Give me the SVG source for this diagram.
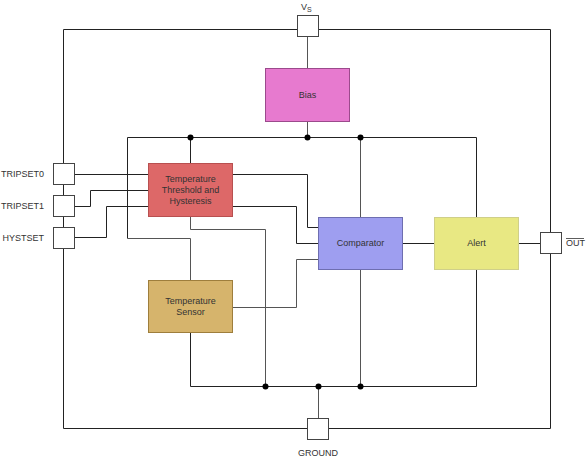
<svg xmlns="http://www.w3.org/2000/svg" width="587" height="460" viewBox="0 0 587 460">
<style>
.w{fill:none;stroke:#222;stroke-width:1}
.g{fill:none;stroke:#555;stroke-width:1}
.pin{fill:#fff;stroke:#444;stroke-width:1}
.t{font-family:"Liberation Sans",Arial,sans-serif;font-size:9px;fill:#333}
.c{text-anchor:middle}
.dot{fill:#000}
</style>
<rect width="587" height="460" fill="#fff"/>
<g id="connectors">
<polyline class="w" points="297,29.5 63.5,29.5 63.5,428.5 307,428.5"/>
<polyline class="w" points="318,29.5 550.5,29.5 550.5,233"/>
<polyline class="w" points="550.5,254 550.5,428.5 328,428.5"/>
<line class="g" x1="307.5" y1="37" x2="307.5" y2="68"/>
<line class="g" x1="307.5" y1="122" x2="307.5" y2="137.5"/>
<polyline class="w" points="127.5,238.5 127.5,137.5 476.5,137.5 476.5,217"/>
<line class="w" x1="190.5" y1="137.5" x2="190.5" y2="163"/>
<line class="g" x1="360.5" y1="137.5" x2="360.5" y2="217"/>
<polyline class="g" points="127.5,238.5 190.5,238.5 190.5,280"/>
<polyline class="g" points="190.5,217 190.5,229.5 265.5,229.5 265.5,386.5"/>
<polyline class="w" points="74,174.5 148,174.5"/>
<polyline class="w" points="74,206.5 90.5,206.5 90.5,190.5 148,190.5"/>
<polyline class="w" points="74,237.5 106.5,237.5 106.5,206.5 148,206.5"/>
<polyline class="w" points="233,174.5 307.5,174.5 307.5,227.5 318,227.5"/>
<polyline class="w" points="233,206.5 296.5,206.5 296.5,243.5 318,243.5"/>
<polyline class="g" points="233,307.5 296.5,307.5 296.5,259.5 318,259.5"/>
<line class="w" x1="403" y1="243.5" x2="434" y2="243.5"/>
<line class="w" x1="519" y1="243.5" x2="540" y2="243.5"/>
<line class="g" x1="360.5" y1="270" x2="360.5" y2="386.5"/>
<line class="w" x1="476.5" y1="270" x2="476.5" y2="386.5"/>
<polyline class="w" points="190.5,333 190.5,386.5 476.5,386.5"/>
<line class="g" x1="318.5" y1="386.5" x2="318.5" y2="418"/>
<circle class="dot" cx="190.5" cy="137.5" r="3"/>
<circle class="dot" cx="307.5" cy="137.5" r="3"/>
<circle class="dot" cx="360.5" cy="137.5" r="3"/>
<circle class="dot" cx="265.5" cy="386.5" r="3"/>
<circle class="dot" cx="318.5" cy="386.5" r="3"/>
<circle class="dot" cx="360.5" cy="386.5" r="3"/>
</g>
<g id="pin-vs">
<rect class="pin" x="297.5" y="15.5" width="21" height="21"/>
<text class="t" x="301" y="10">V<tspan font-size="7" dy="2">S</tspan></text>
</g>
<g id="pin-tripset0">
<rect class="pin" x="53.5" y="163.5" width="21" height="21"/>
<text class="t" x="44" y="177" text-anchor="end">TRIPSET0</text>
</g>
<g id="pin-tripset1">
<rect class="pin" x="53.5" y="195.5" width="21" height="21"/>
<text class="t" x="44" y="209" text-anchor="end">TRIPSET1</text>
</g>
<g id="pin-hystset">
<rect class="pin" x="53.5" y="227.5" width="21" height="21"/>
<text class="t" x="44" y="241" text-anchor="end">HYSTSET</text>
</g>
<g id="pin-out">
<rect class="pin" x="540.5" y="232.5" width="21" height="21"/>
<text class="t" x="566" y="246">OUT</text>
<line x1="566" y1="238.5" x2="584" y2="238.5" stroke="#333" stroke-width="0.8"/>
</g>
<g id="pin-ground">
<rect class="pin" x="307.5" y="418.5" width="21" height="21"/>
<text class="t c" x="318" y="456">GROUND</text>
</g>
<g id="bias">
<rect x="265.5" y="68.5" width="84" height="53" fill="#E77ACF" stroke="#9B4A8C"/>
<text class="t c" x="307.5" y="98">Bias</text>
</g>
<g id="threshold">
<rect x="148.5" y="163.5" width="84" height="53" fill="#DD6868" stroke="#B85050"/>
<text class="t c" x="190.5" y="182">Temperature</text>
<text class="t c" x="190.5" y="193">Threshold and</text>
<text class="t c" x="190.5" y="204">Hysteresis</text>
</g>
<g id="sensor">
<rect x="148.5" y="280.5" width="84" height="52" fill="#D6B46C" stroke="#9E7E3C"/>
<text class="t c" x="190.5" y="304">Temperature</text>
<text class="t c" x="190.5" y="315">Sensor</text>
</g>
<g id="comparator">
<rect x="318.5" y="217.5" width="84" height="52" fill="#9E9EF0" stroke="#6E6EB0"/>
<text class="t c" x="360.5" y="246">Comparator</text>
</g>
<g id="alert">
<rect x="434.5" y="217.5" width="84" height="52" fill="#E8E883" stroke="#CFCF8A"/>
<text class="t c" x="476.5" y="246">Alert</text>
</g>
</svg>
